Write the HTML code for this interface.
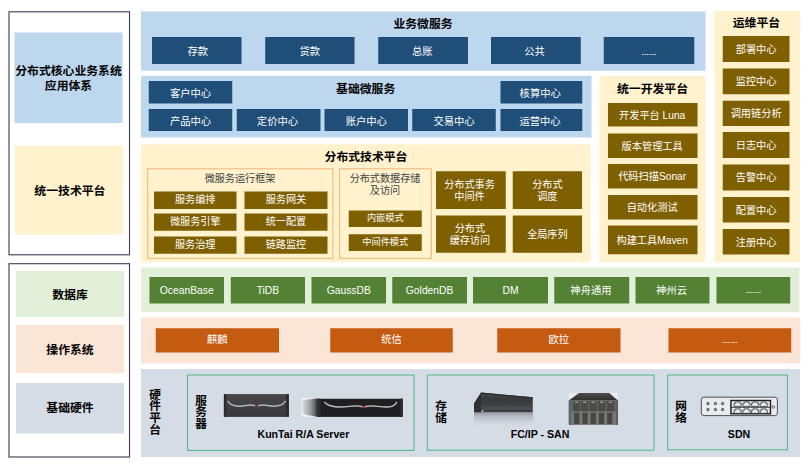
<!DOCTYPE html>
<html lang="zh-CN"><head><meta charset="utf-8"><title>分布式核心业务系统应用体系</title>
<style>
html,body{margin:0;padding:0;background:#fff}
body{width:809px;height:465px;position:relative;overflow:hidden;font-family:"Liberation Sans","Noto Sans CJK SC",sans-serif}
.a{position:absolute;box-sizing:border-box}
.bx{display:flex;align-items:center;justify-content:center;text-align:center;line-height:1.2;white-space:nowrap}
.l{position:relative;display:block}
.e{font-size:.76em;font-weight:bold;position:relative;top:-.6px}
</style></head><body>
<svg class="a" style="left:0;top:0" width="809" height="465" viewBox="0 0 809 465" aria-hidden="true">
<rect x="9" y="11.8" width="120.5" height="243" fill="none" stroke="#3c3c54" stroke-width="1.1"/>
<rect x="9" y="263.7" width="120.5" height="193.3" fill="none" stroke="#3c3c54" stroke-width="1.1"/>
<rect x="14.5" y="32.5" width="108" height="90.5" fill="#bdd7ee"/>
<rect x="15" y="146" width="108" height="88.5" fill="#fff2cc"/>
<rect x="16" y="271" width="108" height="46" fill="#e2f0d9"/>
<rect x="16" y="325" width="108" height="48" fill="#fbe5d6"/>
<rect x="16" y="383" width="108" height="50.5" fill="#d6dce5"/>
<rect x="141" y="11.5" width="564.5" height="59.25" fill="#bdd7ee"/>
<rect x="141" y="75.8" width="450.5" height="61.7" fill="#bdd7ee"/>
<rect x="141" y="144.25" width="449.5" height="117.75" fill="#fff2cc"/>
<rect x="599.4" y="75.9" width="106.1" height="186.1" fill="#fff2cc"/>
<rect x="714.5" y="11" width="85.75" height="251" fill="#fff2cc"/>
<rect x="141" y="267.5" width="658.5" height="44.5" fill="#e2f0d9"/>
<rect x="141" y="317.5" width="659.25" height="46" fill="#fbe5d6"/>
<rect x="141" y="369" width="659" height="88" fill="#d6dce5"/>
<rect x="152" y="37" width="89.5" height="27" fill="#1f4e79"/>
<rect x="265.25" y="37" width="89.25" height="27" fill="#1f4e79"/>
<rect x="378.25" y="37" width="89.75" height="27" fill="#1f4e79"/>
<rect x="491" y="37" width="89.75" height="27" fill="#1f4e79"/>
<rect x="603.75" y="37" width="90.5" height="27" fill="#1f4e79"/>
<rect x="148.75" y="81" width="83.5" height="22.5" fill="#1f4e79"/>
<rect x="500.5" y="81" width="81.75" height="22.5" fill="#1f4e79"/>
<rect x="148.75" y="109" width="83.5" height="22" fill="#1f4e79"/>
<rect x="236.75" y="109" width="83.75" height="22" fill="#1f4e79"/>
<rect x="324.5" y="109" width="83.5" height="22" fill="#1f4e79"/>
<rect x="412.25" y="109" width="83.5" height="22" fill="#1f4e79"/>
<rect x="500.5" y="109" width="81.75" height="22" fill="#1f4e79"/>
<rect x="147.7" y="168.8" width="185.2" height="89.5" fill="none" stroke="#eeb47a" stroke-width="1"/>
<rect x="339.6" y="168.8" width="91.7" height="89.5" fill="none" stroke="#eeb47a" stroke-width="1"/>
<rect x="154" y="191.5" width="82.5" height="17.5" fill="#7f6000"/>
<rect x="244.5" y="191.5" width="83" height="17.5" fill="#7f6000"/>
<rect x="154" y="213.5" width="82.5" height="17.25" fill="#7f6000"/>
<rect x="244.5" y="213.5" width="83" height="17.25" fill="#7f6000"/>
<rect x="154" y="236.5" width="82.5" height="17.25" fill="#7f6000"/>
<rect x="244.5" y="236.5" width="83" height="17.25" fill="#7f6000"/>
<rect x="348.75" y="210.5" width="73" height="16.5" fill="#7f6000"/>
<rect x="348.75" y="234.25" width="73" height="16.75" fill="#7f6000"/>
<rect x="436" y="171.25" width="69.75" height="37.75" fill="#7f6000"/>
<rect x="512.75" y="171.25" width="69.25" height="37.75" fill="#7f6000"/>
<rect x="436" y="215.5" width="69.75" height="37.25" fill="#7f6000"/>
<rect x="512.75" y="215.5" width="69.25" height="37.25" fill="#7f6000"/>
<rect x="608" y="103" width="89.5" height="23.5" fill="#7f6000"/>
<rect x="608" y="133.5" width="89.5" height="24.5" fill="#7f6000"/>
<rect x="608" y="164" width="89.5" height="24.5" fill="#7f6000"/>
<rect x="608" y="195" width="89.5" height="24.5" fill="#7f6000"/>
<rect x="608" y="225.5" width="89.5" height="28.75" fill="#7f6000"/>
<rect x="722.75" y="36" width="66.75" height="26" fill="#7f6000"/>
<rect x="722.75" y="68.5" width="66.75" height="25.75" fill="#7f6000"/>
<rect x="722.75" y="100.75" width="66.75" height="25.25" fill="#7f6000"/>
<rect x="722.75" y="132" width="66.75" height="26" fill="#7f6000"/>
<rect x="722.75" y="164.5" width="66.75" height="26" fill="#7f6000"/>
<rect x="722.75" y="197" width="66.75" height="25.5" fill="#7f6000"/>
<rect x="722.75" y="229" width="66.75" height="25.5" fill="#7f6000"/>
<rect x="149.5" y="277" width="74.5" height="26.5" fill="#548235"/>
<rect x="230.75" y="277" width="74.25" height="26.5" fill="#548235"/>
<rect x="311.5" y="277" width="74.5" height="26.5" fill="#548235"/>
<rect x="392.25" y="277" width="74.75" height="26.5" fill="#548235"/>
<rect x="473" y="277" width="75" height="26.5" fill="#548235"/>
<rect x="554.25" y="277" width="75" height="26.5" fill="#548235"/>
<rect x="635.5" y="277" width="74" height="26.5" fill="#548235"/>
<rect x="716.5" y="277" width="73.75" height="26.5" fill="#548235"/>
<rect x="155.75" y="328.25" width="123.25" height="24.25" fill="#c55a11"/>
<rect x="330.25" y="328.25" width="122.5" height="24.25" fill="#c55a11"/>
<rect x="497.25" y="328.25" width="123.25" height="24.25" fill="#c55a11"/>
<rect x="668.5" y="328.25" width="122.75" height="24.25" fill="#c55a11"/>
<rect x="187.5" y="375" width="226.5" height="75.4" fill="none" stroke="#48b985" stroke-width="1"/>
<rect x="427.3" y="375" width="226.7" height="75.2" fill="none" stroke="#48b985" stroke-width="1"/>
<rect x="667.7" y="375" width="119.7" height="74.8" fill="none" stroke="#48b985" stroke-width="1"/>
</svg>
<div class="a bx" style="left:14.5px;top:32.5px;width:108px;height:90.5px;font-size:11.85px;--c:#000;color:#000;font-weight:bold;line-height:14.6px;"><span class="l" style="transform:translate(0px,1.2px)">分布式核心业务系统<br>应用体系</span></div>
<div class="a bx" style="left:15px;top:146px;width:108px;height:88.5px;font-size:11.85px;--c:#000;color:#000;font-weight:bold;"><span class="l" style="transform:translate(0.9px,1px)">统一技术平台</span></div>
<div class="a bx" style="left:16px;top:271px;width:108px;height:46px;font-size:11.85px;--c:#000;color:#000;font-weight:bold;"><span class="l" style="transform:translate(0px,0.6px)">数据库</span></div>
<div class="a bx" style="left:16px;top:325px;width:108px;height:48px;font-size:11.85px;--c:#000;color:#000;font-weight:bold;"><span class="l" style="transform:translate(0px,0.5px)">操作系统</span></div>
<div class="a bx" style="left:16px;top:383px;width:108px;height:50.5px;font-size:11.85px;--c:#000;color:#000;font-weight:bold;"><span class="l" style="transform:translate(0px,0.4px)">基础硬件</span></div>
<div class="a bx" style="left:323px;top:4px;width:200px;height:40px;font-size:11.85px;--c:#000;color:#000;font-weight:bold;"><span class="l" style="transform:translate(0px,-0.5px)">业务微服务</span></div>
<div class="a bx" style="left:266px;top:68px;width:200px;height:40px;font-size:11.85px;--c:#000;color:#000;font-weight:bold;"><span class="l" style="transform:translate(-0.3px,0.5px)">基础微服务</span></div>
<div class="a bx" style="left:266px;top:136px;width:200px;height:40px;font-size:11.85px;--c:#000;color:#000;font-weight:bold;"><span class="l" style="transform:translate(0px,0.5px)">分布式技术平台</span></div>
<div class="a bx" style="left:552px;top:68px;width:200px;height:40px;font-size:11.85px;--c:#000;color:#000;font-weight:bold;"><span class="l" style="transform:translate(0.5px,0.5px)">统一开发平台</span></div>
<div class="a bx" style="left:656px;top:3px;width:200px;height:40px;font-size:11.85px;--c:#000;color:#000;font-weight:bold;"><span class="l" style="transform:translate(0.4px,0.4px)">运维平台</span></div>
<div class="a bx" style="left:152px;top:37px;width:89.5px;height:27px;font-size:10.3px;--c:#fff;color:#fff;"><span class="l" style="transform:translate(1px,1.8px)">存款</span></div>
<div class="a bx" style="left:265.25px;top:37px;width:89.25px;height:27px;font-size:10.3px;--c:#fff;color:#fff;"><span class="l" style="transform:translate(0px,1.8px)">贷款</span></div>
<div class="a bx" style="left:378.25px;top:37px;width:89.75px;height:27px;font-size:10.3px;--c:#fff;color:#fff;"><span class="l" style="transform:translate(-0.8px,1.8px)">总账</span></div>
<div class="a bx" style="left:491px;top:37px;width:89.75px;height:27px;font-size:10.3px;--c:#fff;color:#fff;"><span class="l" style="transform:translate(-1.3px,1.8px)">公共</span></div>
<div class="a bx" style="left:603.75px;top:37px;width:90.5px;height:27px;font-size:10.3px;--c:#fff;color:#fff;"><span class="l" style="transform:translate(0px,1.8px)"><span class="e">…</span><span class="e">…</span></span></div>
<div class="a bx" style="left:148.75px;top:81px;width:83.5px;height:22.5px;font-size:10.3px;--c:#fff;color:#fff;"><span class="l" style="transform:translate(0px,1.8px)">客户中心</span></div>
<div class="a bx" style="left:500.5px;top:81px;width:81.75px;height:22.5px;font-size:10.3px;--c:#fff;color:#fff;"><span class="l" style="transform:translate(-1.2px,1.8px)">核算中心</span></div>
<div class="a bx" style="left:148.75px;top:109px;width:83.5px;height:22px;font-size:10.3px;--c:#fff;color:#fff;"><span class="l" style="transform:translate(0px,1.8px)">产品中心</span></div>
<div class="a bx" style="left:236.75px;top:109px;width:83.75px;height:22px;font-size:10.3px;--c:#fff;color:#fff;"><span class="l" style="transform:translate(-1.2px,1.8px)">定价中心</span></div>
<div class="a bx" style="left:324.5px;top:109px;width:83.5px;height:22px;font-size:10.3px;--c:#fff;color:#fff;"><span class="l" style="transform:translate(0px,1.8px)">账户中心</span></div>
<div class="a bx" style="left:412.25px;top:109px;width:83.5px;height:22px;font-size:10.3px;--c:#fff;color:#fff;"><span class="l" style="transform:translate(0px,1.8px)">交易中心</span></div>
<div class="a bx" style="left:500.5px;top:109px;width:81.75px;height:22px;font-size:10.3px;--c:#fff;color:#fff;"><span class="l" style="transform:translate(-1.3px,1.8px)">运营中心</span></div>
<div class="a bx" style="left:140px;top:159px;width:200px;height:40px;font-size:10.1px;--c:#404040;color:#404040;"><span class="l" style="transform:translate(0px,-0.2px)">微服务运行框架</span></div>
<div class="a bx" style="left:285px;top:165px;width:200px;height:40px;font-size:10.1px;--c:#404040;color:#404040;line-height:11.6px;"><span class="l" style="transform:translate(0px,-0.2px)">分布式数据存储<br>及访问</span></div>
<div class="a bx" style="left:154px;top:191.5px;width:82.5px;height:17.5px;font-size:10.15px;--c:#fff;color:#fff;"><span class="l" style="transform:translate(0px,0.3px)">服务编排</span></div>
<div class="a bx" style="left:244.5px;top:191.5px;width:83px;height:17.5px;font-size:10.15px;--c:#fff;color:#fff;"><span class="l" style="transform:translate(0px,0.3px)">服务网关</span></div>
<div class="a bx" style="left:154px;top:213.5px;width:82.5px;height:17.25px;font-size:10.15px;--c:#fff;color:#fff;"><span class="l" style="transform:translate(0px,0.3px)">微服务引擎</span></div>
<div class="a bx" style="left:244.5px;top:213.5px;width:83px;height:17.25px;font-size:10.15px;--c:#fff;color:#fff;"><span class="l" style="transform:translate(0px,0.3px)">统一配置</span></div>
<div class="a bx" style="left:154px;top:236.5px;width:82.5px;height:17.25px;font-size:10.15px;--c:#fff;color:#fff;"><span class="l" style="transform:translate(0px,0.3px)">服务治理</span></div>
<div class="a bx" style="left:244.5px;top:236.5px;width:83px;height:17.25px;font-size:10.15px;--c:#fff;color:#fff;"><span class="l" style="transform:translate(0px,0.3px)">链路监控</span></div>
<div class="a bx" style="left:348.75px;top:210.5px;width:73px;height:16.5px;font-size:9.2px;--c:#fff;color:#fff;"><span class="l">内嵌模式</span></div>
<div class="a bx" style="left:348.75px;top:234.25px;width:73px;height:16.75px;font-size:9.2px;--c:#fff;color:#fff;"><span class="l">中间件模式</span></div>
<div class="a bx" style="left:436px;top:171.25px;width:69.75px;height:37.75px;font-size:10.15px;--c:#fff;color:#fff;line-height:11.9px;"><span class="l" style="transform:translate(-1.4px,0.7px)">分布式事务<br>中间件</span></div>
<div class="a bx" style="left:512.75px;top:171.25px;width:69.25px;height:37.75px;font-size:10.15px;--c:#fff;color:#fff;line-height:11.9px;"><span class="l" style="transform:translate(0px,0.7px)">分布式<br>调度</span></div>
<div class="a bx" style="left:436px;top:215.5px;width:69.75px;height:37.25px;font-size:10.15px;--c:#fff;color:#fff;line-height:11.9px;"><span class="l" style="transform:translate(-1px,0.8px)">分布式<br>缓存访问</span></div>
<div class="a bx" style="left:512.75px;top:215.5px;width:69.25px;height:37.25px;font-size:10.15px;--c:#fff;color:#fff;"><span class="l" style="transform:translate(0px,1.2px)">全局序列</span></div>
<div class="a bx" style="left:608px;top:103px;width:89.5px;height:23.5px;font-size:10.2px;--c:#fff;color:#fff;"><span class="l" style="transform:translate(-0.6px,0.5px)">开发平台 Luna</span></div>
<div class="a bx" style="left:608px;top:133.5px;width:89.5px;height:24.5px;font-size:10.2px;--c:#fff;color:#fff;"><span class="l" style="transform:translate(-0.6px,0.5px)">版本管理工具</span></div>
<div class="a bx" style="left:608px;top:164px;width:89.5px;height:24.5px;font-size:10.2px;--c:#fff;color:#fff;"><span class="l" style="transform:translate(-0.6px,0.5px)">代码扫描Sonar</span></div>
<div class="a bx" style="left:608px;top:195px;width:89.5px;height:24.5px;font-size:10.2px;--c:#fff;color:#fff;"><span class="l" style="transform:translate(-0.6px,0.5px)">自动化测试</span></div>
<div class="a bx" style="left:608px;top:225.5px;width:89.5px;height:28.75px;font-size:10.2px;--c:#fff;color:#fff;"><span class="l" style="transform:translate(-0.6px,0.5px)">构建工具Maven</span></div>
<div class="a bx" style="left:722.75px;top:36px;width:66.75px;height:26px;font-size:10.2px;--c:#fff;color:#fff;"><span class="l" style="transform:translate(0px,1.4px)">部署中心</span></div>
<div class="a bx" style="left:722.75px;top:68.5px;width:66.75px;height:25.75px;font-size:10.2px;--c:#fff;color:#fff;"><span class="l" style="transform:translate(0px,1.4px)">监控中心</span></div>
<div class="a bx" style="left:722.75px;top:100.75px;width:66.75px;height:25.25px;font-size:10.2px;--c:#fff;color:#fff;"><span class="l" style="transform:translate(0px,1.4px)">调用链分析</span></div>
<div class="a bx" style="left:722.75px;top:132px;width:66.75px;height:26px;font-size:10.2px;--c:#fff;color:#fff;"><span class="l" style="transform:translate(0px,1.4px)">日志中心</span></div>
<div class="a bx" style="left:722.75px;top:164.5px;width:66.75px;height:26px;font-size:10.2px;--c:#fff;color:#fff;"><span class="l" style="transform:translate(0px,1.4px)">告警中心</span></div>
<div class="a bx" style="left:722.75px;top:197px;width:66.75px;height:25.5px;font-size:10.2px;--c:#fff;color:#fff;"><span class="l" style="transform:translate(0px,1.4px)">配置中心</span></div>
<div class="a bx" style="left:722.75px;top:229px;width:66.75px;height:25.5px;font-size:10.2px;--c:#fff;color:#fff;"><span class="l" style="transform:translate(0px,1.4px)">注册中心</span></div>
<div class="a bx" style="left:149.5px;top:277px;width:74.5px;height:26.5px;font-size:10.3px;--c:#fff;color:#fff;"><span class="l" style="transform:translate(0px,0.9px)">OceanBase</span></div>
<div class="a bx" style="left:230.75px;top:277px;width:74.25px;height:26.5px;font-size:10.3px;--c:#fff;color:#fff;"><span class="l" style="transform:translate(0px,0.9px)">TiDB</span></div>
<div class="a bx" style="left:311.5px;top:277px;width:74.5px;height:26.5px;font-size:10.3px;--c:#fff;color:#fff;"><span class="l" style="transform:translate(0px,0.9px)">GaussDB</span></div>
<div class="a bx" style="left:392.25px;top:277px;width:74.75px;height:26.5px;font-size:10.3px;--c:#fff;color:#fff;"><span class="l" style="transform:translate(0px,0.9px)">GoldenDB</span></div>
<div class="a bx" style="left:473px;top:277px;width:75px;height:26.5px;font-size:10.3px;--c:#fff;color:#fff;"><span class="l" style="transform:translate(0px,0.9px)">DM</span></div>
<div class="a bx" style="left:554.25px;top:277px;width:75px;height:26.5px;font-size:10.3px;--c:#fff;color:#fff;"><span class="l" style="transform:translate(-0.8px,0.9px)">神舟通用</span></div>
<div class="a bx" style="left:635.5px;top:277px;width:74px;height:26.5px;font-size:10.3px;--c:#fff;color:#fff;"><span class="l" style="transform:translate(-1px,0.9px)">神州云</span></div>
<div class="a bx" style="left:716.5px;top:277px;width:73.75px;height:26.5px;font-size:10.3px;--c:#fff;color:#fff;"><span class="l" style="transform:translate(0px,0.9px)"><span class="e">…</span><span class="e">…</span></span></div>
<div class="a bx" style="left:155.75px;top:328.25px;width:123.25px;height:24.25px;font-size:10.3px;--c:#fff;color:#fff;"><span class="l" style="transform:translate(0px,0.4px)">麒麟</span></div>
<div class="a bx" style="left:330.25px;top:328.25px;width:122.5px;height:24.25px;font-size:10.3px;--c:#fff;color:#fff;"><span class="l" style="transform:translate(0px,0.4px)">统信</span></div>
<div class="a bx" style="left:497.25px;top:328.25px;width:123.25px;height:24.25px;font-size:10.3px;--c:#fff;color:#fff;"><span class="l" style="transform:translate(0px,0.4px)">欧拉</span></div>
<div class="a bx" style="left:668.5px;top:328.25px;width:122.75px;height:24.25px;font-size:10.3px;--c:#fff;color:#fff;"><span class="l" style="transform:translate(0px,0.4px)"><span class="e">…</span><span class="e">…</span></span></div>
<div class="a bx" style="left:55px;top:382px;width:200px;height:60px;font-size:11.7px;--c:#000;color:#000;font-weight:bold;line-height:11.6px;"><span class="l" style="transform:translate(0.2px,0.2px)">硬<br>件<br>平<br>台</span></div>
<div class="a bx" style="left:101px;top:382px;width:200px;height:60px;font-size:11.7px;--c:#000;color:#000;font-weight:bold;line-height:11.6px;"><span class="l">服<br>务<br>器</span></div>
<div class="a bx" style="left:341px;top:382px;width:200px;height:60px;font-size:11.7px;--c:#000;color:#000;font-weight:bold;line-height:11.7px;"><span class="l">存<br>储</span></div>
<div class="a bx" style="left:581px;top:382px;width:200px;height:60px;font-size:11.7px;--c:#000;color:#000;font-weight:bold;line-height:11.7px;"><span class="l" style="transform:translate(0px,-0.3px)">网<br>络</span></div>
<div class="a bx" style="left:203px;top:414px;width:200px;height:40px;font-size:10.6px;--c:#000;color:#000;font-weight:bold;"><span class="l" style="transform:translate(0.4px,0.3px)">KunTai R/A Server</span></div>
<div class="a bx" style="left:440px;top:414px;width:200px;height:40px;font-size:10.6px;--c:#000;color:#000;font-weight:bold;"><span class="l" style="transform:translate(0px,0.3px)">FC/IP - SAN</span></div>
<div class="a bx" style="left:639px;top:414px;width:200px;height:40px;font-size:10.6px;--c:#000;color:#000;font-weight:bold;"><span class="l" style="transform:translate(0px,-0.5px)">SDN</span></div>
<svg class="a" style="left:0;top:0" width="809" height="465" viewBox="0 0 809 465" aria-hidden="true">
<defs>
<linearGradient id="gSide" x1="0" x2="1" y1="0" y2="0"><stop offset="0" stop-color="#d9dadb"/><stop offset="0.55" stop-color="#9b9c9d"/><stop offset="1" stop-color="#4a4a4c"/></linearGradient>
<linearGradient id="gRefl" x1="0" x2="0" y1="0" y2="1"><stop offset="0" stop-color="#8f9398" stop-opacity=".9"/><stop offset="0.3" stop-color="#a9adb3" stop-opacity=".65"/><stop offset="1" stop-color="#d6dce5" stop-opacity="0"/></linearGradient>
<linearGradient id="gSrv" x1="0" x2="0" y1="0" y2="1"><stop offset="0" stop-color="#47474a"/><stop offset="1" stop-color="#38383b"/></linearGradient>
<linearGradient id="gSt1" x1="0" x2="0" y1="0" y2="1"><stop offset="0" stop-color="#4a4b4d"/><stop offset="0.3" stop-color="#38393b"/><stop offset="0.62" stop-color="#3d3f42"/><stop offset="0.8" stop-color="#4c4f53"/><stop offset="1" stop-color="#37383b"/></linearGradient>
</defs>
<!-- server 1 -->
<g>
<rect x="223.9" y="394.1" width="64.9" height="22.8" fill="url(#gSrv)"/>
<rect x="223.9" y="394.1" width="2.2" height="22.8" fill="#2c2c2f"/>
<rect x="286.3" y="394.1" width="2.5" height="22.8" fill="#2c2c2f"/>
<path d="M227.7 400.9C229.5 404.2 234 406.2 239 406.2C244 406.2 247 405.1 250.5 405.1C253.5 405.1 254.8 405.9 256.6 405.9C258.4 405.9 259.7 405.1 262.7 405.1C266.2 405.1 269.2 406.2 274.2 406.2C279.2 406.2 283.7 404.2 285.6 400.9" fill="none" stroke="#9d9da0" stroke-width="1.5"/><path d="M227.7 400.9C229.5 404.2 234 406.2 239 406.2C244 406.2 247 405.1 250.5 405.1C253.5 405.1 254.8 405.9 256.6 405.9C258.4 405.9 259.7 405.1 262.7 405.1C266.2 405.1 269.2 406.2 274.2 406.2C279.2 406.2 283.7 404.2 285.6 400.9" fill="none" stroke="#d2d2d4" stroke-width=".55"/>
<rect x="255.1" y="404.9" width="3" height="2" fill="#7c2836"/>
</g>
<!-- server 2 -->
<g>
<rect x="301.8" y="398.3" width="101.5" height="18.4" fill="#f4f5f6"/>
<path d="M302.6 399.9L317 398.6V416.8L302.6 414.2Z" fill="url(#gSide)"/>
<rect x="316.8" y="398.7" width="86.2" height="18.2" fill="#1f1f21"/>
<rect x="400.2" y="398.7" width="2.8" height="18.2" fill="#2e2e31"/><rect x="316.8" y="398.7" width="3.6" height="18.2" fill="#303033"/>
<path d="M324.4 402C327 405.2 333 407 340 407C347 407 351 405.9 356 405.9C360 405.9 361.6 406.8 363.6 406.8C365.6 406.8 367.2 405.9 371.2 405.9C376.2 405.9 380.2 407 387.2 407C393 407 394.8 405.2 396.9 402" fill="none" stroke="#a4a4a7" stroke-width="1.4"/><path d="M324.4 402C327 405.2 333 407 340 407C347 407 351 405.9 356 405.9C360 405.9 361.6 406.8 363.6 406.8C365.6 406.8 367.2 405.9 371.2 405.9C376.2 405.9 380.2 407 387.2 407C393 407 394.8 405.2 396.9 402" fill="none" stroke="#dcdcde" stroke-width=".5"/>
<rect x="362.2" y="405.8" width="2.8" height="2" fill="#b5223a"/>
</g>
<!-- storage 1 -->
<g>
<rect x="474" y="412.3" width="59" height="15.5" fill="url(#gRefl)"/>
<path d="M481.1 392.5L532.8 397.3V412.2H474V403.6Z" fill="url(#gSt1)"/>
<path d="M481.1 392.5L532.8 397.3V398.4L480.7 393.8Z" fill="#2b2c2e"/>
<path d="M474 403.6L481.1 392.5V412.2H474Z" fill="#303133"/>
<rect x="481.6" y="410.2" width="1.6" height="1.6" fill="#d8d8d8"/>
</g>
<!-- storage 2 -->
<g>
<rect x="568.8" y="392.8" width="49.1" height="8" fill="#e9ecf0"/>
<linearGradient id="gTop" x1="0" x2="0" y1="0" y2="1"><stop offset="0" stop-color="#4c4c4c"/><stop offset="1" stop-color="#2f2f30"/></linearGradient><path d="M579 392.9H609.3L617.9 400.4H568.8Z" fill="url(#gTop)"/>
<rect x="568.8" y="400.2" width="49.1" height="24.6" fill="#66665f"/>
<rect x="568.8" y="400.2" width="2.4" height="24.6" fill="#5d6770"/>
<rect x="571.2" y="400.6" width="45" height="10.6" fill="#62625f"/>
<g fill="#4a4a4a">
<rect x="573.6" y="401" width="6.2" height="10"/><rect x="581.2" y="401" width="7" height="10"/><rect x="589.6" y="401" width="7" height="10"/><rect x="598.1" y="401" width="7.4" height="10"/><rect x="607" y="401" width="7" height="10"/>
</g>
<g fill="#9c9c98">
<rect x="575" y="401.6" width="3.4" height="1.4"/><rect x="583" y="401.6" width="3.4" height="1.4"/><rect x="591.4" y="401.6" width="3.4" height="1.4"/><rect x="600" y="401.6" width="3.4" height="1.4"/><rect x="608.8" y="401.6" width="3.4" height="1.4"/>
</g>
<rect x="571.2" y="411.8" width="45" height="12.6" fill="#77776f"/>
<g fill="#454543">
<rect x="574.2" y="412.8" width="5.2" height="11"/><rect x="582.4" y="412.8" width="5.2" height="11"/><rect x="590.7" y="412.8" width="5.2" height="11"/><rect x="598.9" y="412.8" width="5.2" height="11"/><rect x="607.1" y="412.8" width="5.2" height="11"/>
</g>
<rect x="616.2" y="400.2" width="1.7" height="24.6" fill="#5b5b58"/>
</g>
<!-- switch -->
<g>
<rect x="701.3" y="397.2" width="76.1" height="18.4" rx="2.6" fill="#e8ebf0" stroke="#3f4043" stroke-width=".9"/>
<g fill="#8d9096" stroke="#3a3b3e" stroke-width=".7">
<circle cx="707.9" cy="403.6" r="1.25"/><circle cx="715.4" cy="403.6" r="1.25"/><circle cx="722.6" cy="403.6" r="1.25"/>
<circle cx="707.9" cy="409.6" r="1.25"/><circle cx="715.4" cy="409.6" r="1.25"/><circle cx="722.6" cy="409.6" r="1.25"/>
</g>
<rect x="730.9" y="400.5" width="39.6" height="13.3" fill="#dfe2e7" stroke="#1d1d1f" stroke-width="1.4"/>
<path d="M731 407.3H770.4" stroke="#2a2a2c" stroke-width=".9"/>
<g fill="#e9ebee" stroke="#2c2c2e" stroke-width=".75">
<path id="pt" d="M734.2 406.4V403.2H735.6V402H739.8V403.2H741.2V406.4Z"/>
<use href="#pt" x="8.8"/><use href="#pt" x="17.4"/><use href="#pt" x="26"/>
<use href="#pt" y="6.9"/><use href="#pt" x="8.8" y="6.9"/><use href="#pt" x="17.4" y="6.9"/><use href="#pt" x="26" y="6.9"/>
</g>
<circle cx="773.4" cy="406.9" r="1.3" fill="#e8ebf0" stroke="#3a3b3e" stroke-width=".7"/>
</g>
</svg>

</body></html>
